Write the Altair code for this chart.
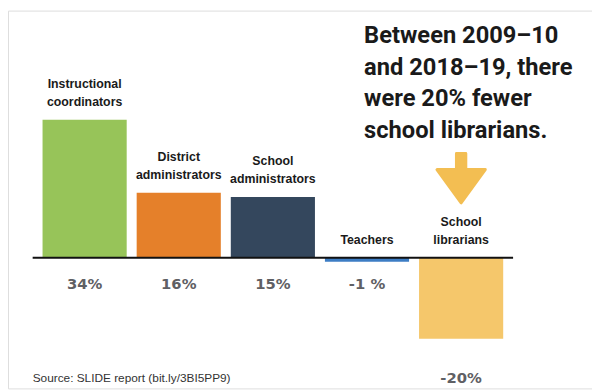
import altair as alt
import pandas as pd

categories = ["Instructional coordinators", "District administrators",
              "School administrators", "Teachers", "School librarians"]
label_top = ["Instructional", "District", "School", "", "School"]
label_bottom = ["coordinators", "administrators", "administrators", "Teachers", "librarians"]
values = [34, 16, 15, -1, -20]
value_labels = ["34%", "16%", "15%", "-1 %", "-20%"]
colors = ["#97C459", "#E5802A", "#34475D", "#3D7DC4", "#F5C76B"]

headline = ["Between 2009\u201310", "and 2018\u201319, there",
            "were 20% fewer", "school librarians."]
source_note = "Source: SLIDE report (bit.ly/3BI5PP9)"

df = pd.DataFrame({
    "category": categories,
    "l1": label_top,
    "l2": label_bottom,
    "value": values,
    "vlabel": value_labels,
})
df["top"] = df["value"].clip(lower=0)

SANS = "Liberation Sans, Arial, sans-serif"

x = alt.X("category:N", sort=categories, axis=None,
          scale=alt.Scale(range=[25, 512], paddingInner=0.106, paddingOuter=0.105))
y_scale = alt.Scale(domain=[-32.24, 60.95], nice=False, zero=False)

base = alt.Chart(df)

bars = base.mark_bar().encode(
    x=x,
    y=alt.Y("value:Q", scale=y_scale, axis=None),
    y2=alt.datum(0),
    color=alt.Color("category:N", sort=categories,
                    scale=alt.Scale(domain=categories, range=colors), legend=None),
)

lab_style = dict(font=SANS, fontWeight="bold", fontSize=12.5, baseline="middle",
                 color="#1A1A1A")
cat_l2 = base.mark_text(dy=-18, **lab_style).encode(
    x=x, y=alt.Y("top:Q", scale=y_scale), text="l2:N")
cat_l1 = base.mark_text(dy=-36, **lab_style).encode(
    x=x, y=alt.Y("top:Q", scale=y_scale), text="l1:N")

val_style = dict(font="DejaVu Sans", fontWeight="bold", fontSize=15,
                 baseline="middle", color="#5F6064")
val_small = base.transform_filter("datum.value > -5").mark_text(
    dy=27, **val_style
).encode(x=x, y=alt.datum(0), text="vlabel:N")

val_big = base.transform_filter("datum.value <= -5").mark_text(
    dy=40, **val_style
).encode(x=x, y=alt.Y("value:Q", scale=y_scale), text="vlabel:N")

baseline_rule = alt.Chart(df.head(1)).mark_rule(color="#111111", strokeWidth=2).encode(
    y=alt.datum(0), x=alt.value(25), x2=alt.value(512)
)

arrow_path = "M-0.19,-1 L0.19,-1 L0.19,-0.35 L0.98,-0.35 L0,1 L-0.98,-0.35 L-0.19,-0.35 Z"
arrow = base.transform_filter("datum.value <= -5").mark_point(
    shape=arrow_path, filled=True, size=2500, color="#F3BE52", opacity=1,
    stroke="#F3BE52", strokeWidth=3, strokeJoin="round"
).encode(x=x, y=alt.datum(19.6))

title_txt = alt.Chart(df.head(1)).mark_text(
    font="Roboto", fontWeight="bold", fontSize=24, align="left", baseline="middle",
    lineHeight=32, color="#1A1A1A"
).encode(x=alt.value(361), y=alt.value(26), text=alt.value(headline))

source_txt = alt.Chart(df.head(1)).mark_text(
    font=SANS, fontSize=12, align="left", baseline="middle", color="#333333"
).encode(x=alt.value(25), y=alt.value(372), text=alt.value(source_note))

chart = alt.layer(
    bars, baseline_rule, cat_l1, cat_l2, val_small, val_big, arrow, title_txt, source_txt
).properties(
    width=592, height=383, autosize=alt.AutoSizeParams(type="none"), padding=0
).configure_view(stroke=None).configure(background="white")

chart.save("out.html", embed_options={"renderer": "svg", "actions": False})
